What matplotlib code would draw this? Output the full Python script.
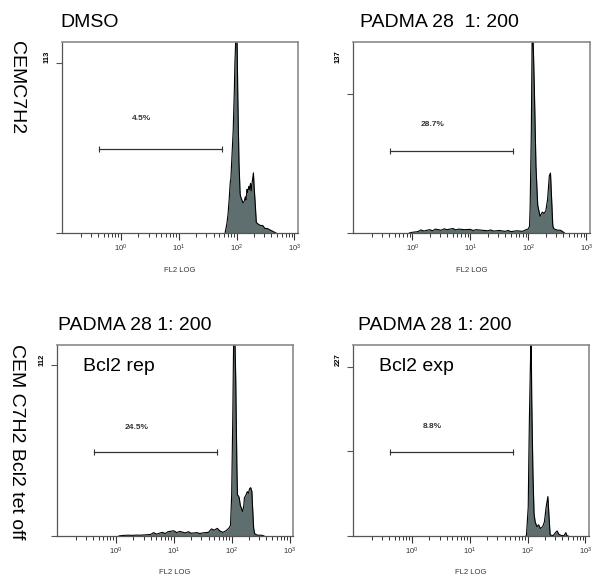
import matplotlib
matplotlib.use('Agg')
import matplotlib.pyplot as plt
import numpy as np
from matplotlib.ticker import LogLocator, NullFormatter

plt.rcParams['font.family'] = ['Liberation Sans', 'DejaVu Sans']
plt.rcParams['mathtext.default'] = 'regular'

# histogram outlines, x in decades (log10 FL2), y in counts
dmso_log = [1.80, 1.83, 1.85, 1.87, 1.89, 1.90, 1.92, 1.94, 1.96, 1.97, 1.99,
            2.00, 2.01, 2.02, 2.04, 2.06, 2.07, 2.09, 2.11, 2.13, 2.15, 2.16,
            2.18, 2.19, 2.21, 2.22, 2.24, 2.25, 2.27, 2.29, 2.30, 2.32, 2.34,
            2.37, 2.41, 2.45, 2.49, 2.53, 2.58, 2.63, 2.68]
dmso_cnt = [0, 6, 12, 22, 34, 36, 52, 68, 95, 113, 135,
            150, 120, 90, 47, 26, 24, 22, 20, 21, 24, 22,
            29, 27, 31, 29, 33, 28, 34, 40, 32, 20, 7,
            6, 5, 5, 3, 3, 2, 1, 0]

padma_log = [-0.05, 0.0, 0.1, 0.15, 0.2, 0.3, 0.35, 0.4, 0.5, 0.55, 0.6,
             0.7, 0.75, 0.8, 0.9, 1.0, 1.05, 1.1, 1.2, 1.3, 1.35, 1.4,
             1.5, 1.6, 1.65, 1.7, 1.8, 1.9, 1.95, 2.00, 2.02, 2.03, 2.05,
             2.07, 2.08, 2.10, 2.13, 2.16, 2.20, 2.24, 2.27, 2.30, 2.33,
             2.36, 2.38, 2.40, 2.42, 2.44, 2.50, 2.55, 2.59, 2.62]
padma_cnt = [0, 0.5, 1.0, 2.2, 1.4, 2.4, 1.6, 2.8, 2.0, 3.0, 2.4,
             3.2, 2.2, 2.8, 2.4, 2.6, 1.8, 2.4, 2.0, 1.6, 2.2, 1.4,
             1.8, 1.2, 1.8, 1.0, 1.6, 1.2, 2.2, 3.0, 5, 19, 72,
             170, 140, 108, 48, 20, 12, 15, 14, 16, 24,
             41, 43, 24, 5, 3, 2, 2, 1, 0]

rep_log = [0.05, 0.1, 0.2, 0.3, 0.35, 0.4, 0.5, 0.6, 0.65, 0.7, 0.8,
           0.85, 0.9, 1.0, 1.05, 1.1, 1.2, 1.25, 1.3, 1.4, 1.45, 1.5,
           1.6, 1.65, 1.7, 1.75, 1.8, 1.85, 1.9, 1.95, 1.98, 2.00, 2.02,
           2.04, 2.05, 2.07, 2.09, 2.10, 2.12, 2.13, 2.15, 2.17, 2.19,
           2.21, 2.22, 2.25, 2.27, 2.29, 2.31, 2.33, 2.35, 2.36, 2.38,
           2.40, 2.45, 2.52, 2.56]
rep_cnt = [0, 0.3, 0.5, 0.4, 0.6, 0.5, 0.7, 1.0, 2.2, 1.2, 2.4,
           1.6, 2.8, 3.4, 2.2, 3.0, 2.0, 2.8, 1.8, 2.2, 1.6, 2.0,
           2.4, 4.6, 3.8, 5.0, 3.2, 2.4, 3.4, 5.0, 7, 27, 80,
           150, 140, 103, 45, 27, 26, 25, 20, 18, 16,
           20, 25, 27, 29, 28, 31, 31.6, 29, 20, 5,
           1.3, 0.5, 0.5, 0]

exp_log = [1.97, 1.98, 2.01, 2.02, 2.03, 2.05, 2.06, 2.07, 2.09, 2.11, 2.13,
           2.16, 2.19, 2.22, 2.26, 2.29, 2.32, 2.35, 2.36, 2.38, 2.39,
           2.44, 2.48, 2.51, 2.54, 2.59, 2.63, 2.66, 2.68, 2.70]
exp_cnt = [0, 1.3, 39, 102, 156, 240, 280, 187, 89, 30, 19,
           12.5, 15, 10, 12.5, 19, 39, 53, 39, 12.5, 1.3,
           0.5, 4.4, 6.7, 2.2, 0.5, 0.5, 4.4, 0.5, 0]

titles = ['DMSO', 'PADMA 28  1: 200', 'PADMA 28 1: 200', 'PADMA 28 1: 200']
inner_labels = ['', '', 'Bcl2 rep', 'Bcl2 exp']
max_labels = ['113', '137', '112', '227']
y_tops = [127, 137, 125, 256.5]
y_ticks = [[0, 113], [0, 100], [0, 112], [0, 113.5, 227]]
gate_pct = ['4.5%', '28.7%', '24.5%', '8.8%']
gate_y = [56, 59, 55, 112.5]
gate_lbl_y = [76, 78, 71, 147]
gate_lo, gate_hi = 0.42, 55.0
row_labels = ['CEMC7H2', 'CEM C7H2 Bcl2 tet off']

hists = [(dmso_log, dmso_cnt), (padma_log, padma_cnt),
         (rep_log, rep_cnt), (exp_log, exp_cnt)]

fig = plt.figure(figsize=(6, 5.85), dpi=100)
rects = [[0.1033, 0.6017, 0.3933, 0.3265], [0.5883, 0.6017, 0.395, 0.3265],
         [0.095, 0.0838, 0.3933, 0.3265], [0.5883, 0.0838, 0.3933, 0.3265]]
title_dx = [-0.005, 0.03, 0.005, 0.02]

fill_col = '#5f6e6e'

for i, r in enumerate(rects):
    ax = fig.add_axes(r)
    lx, cnt = hists[i]
    x = 10 ** np.array(lx)
    ax.fill_between(x, cnt, 0, color=fill_col, lw=0)
    ax.plot(x, cnt, color='black', lw=0.8)
    ax.set_xscale('log')
    ax.set_xlim(10 ** -1.02, 10 ** 3.06)
    ax.set_ylim(0, y_tops[i])

    ax.set_xticks([1, 10, 100, 1000])
    ax.set_xticklabels([r'$10^0$', r'$10^1$', r'$10^2$', r'$10^3$'], fontsize=5.5, color='#333333')
    ax.xaxis.set_minor_locator(LogLocator(base=10, subs=np.arange(2, 10), numticks=20))
    ax.xaxis.set_minor_formatter(NullFormatter())
    ax.tick_params(axis='x', which='major', direction='out', length=5, width=0.8, pad=2, colors='#333333')
    ax.tick_params(axis='x', which='minor', direction='out', length=3, width=0.7, colors='#333333')
    ax.set_yticks(y_ticks[i])
    ax.set_yticklabels([''] * len(y_ticks[i]))
    ax.tick_params(axis='y', direction='out', length=4, width=0.8, colors='#555555')
    ax.set_xlabel('FL2 LOG', fontsize=5.5, labelpad=9, color='#333333')

    for s in ['left', 'bottom']:
        ax.spines[s].set_color('#555555')
        ax.spines[s].set_linewidth(0.9)
    for s in ['top', 'right']:
        ax.spines[s].set_color('#8a8a8a')
        ax.spines[s].set_linewidth(1.2)

    # gate marker
    ax.plot([gate_lo, gate_hi], [gate_y[i], gate_y[i]], color='#333333', lw=0.9,
            marker='|', markersize=4, markeredgewidth=0.8)
    ax.text(10 ** 0.35, gate_lbl_y[i], gate_pct[i], fontsize=6, fontweight='bold',
            ha='center', va='center', color='#333333')

    ax.annotate(max_labels[i], xy=(0, 1), xycoords='axes fraction',
                xytext=(-15, -15), textcoords='offset pixels', rotation=90,
                fontsize=5.5, fontweight='bold', ha='center', va='center')

    ax.text(title_dx[i], 1.06, titles[i], transform=ax.transAxes, fontsize=14,
            ha='left', va='bottom')
    if inner_labels[i]:
        ax.text(0.11, 0.885, inner_labels[i], transform=ax.transAxes, fontsize=14,
                ha='left', va='center')

fig.text(0.027, 0.85, row_labels[0], rotation=-90, fontsize=14, ha='center', va='center')
fig.text(0.027, 0.245, row_labels[1], rotation=-90, fontsize=14, ha='center', va='center')

fig.savefig('out.png', dpi=100)
